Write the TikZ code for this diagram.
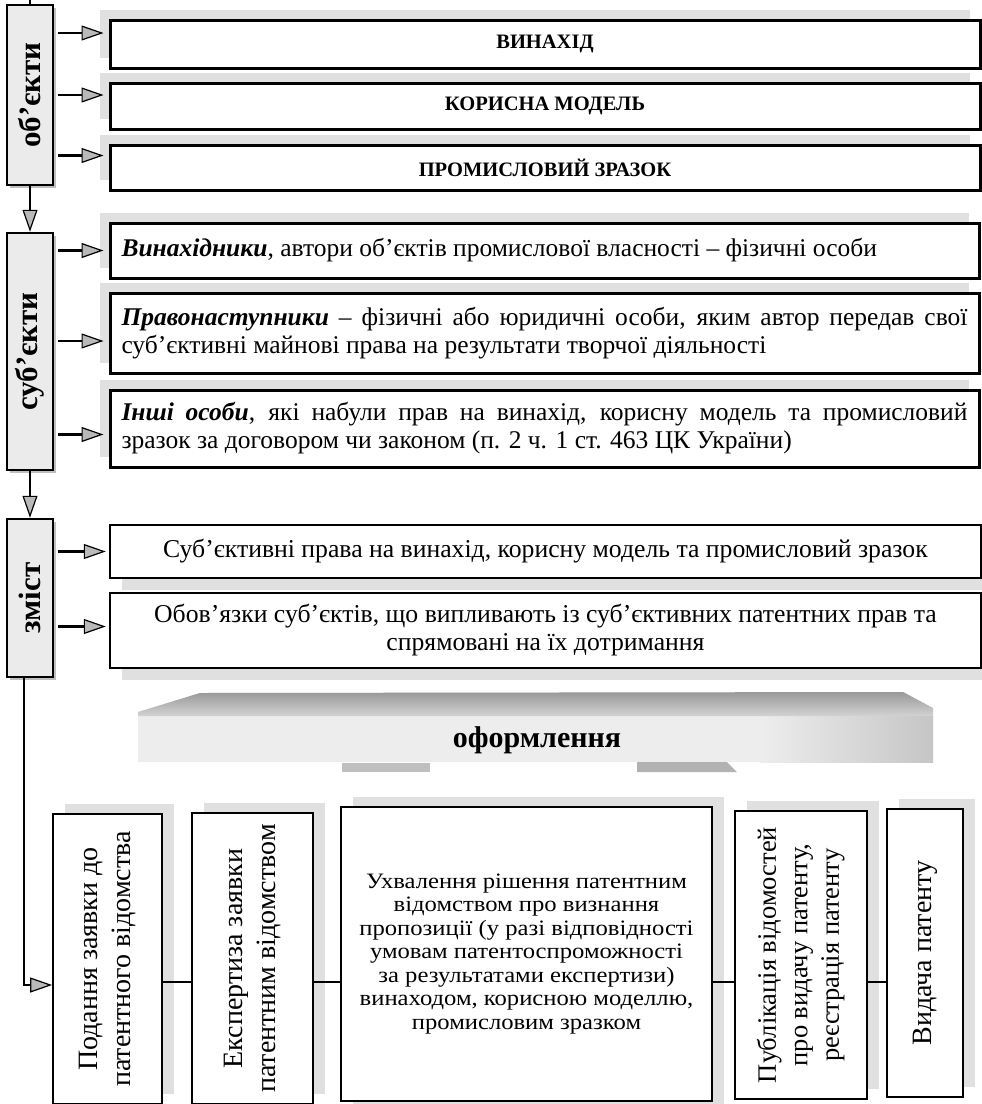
\documentclass[tikz,border=0pt]{standalone}
\usepackage{fontspec}
\setmainfont{Liberation Serif}
\newfontfamily\widefont[FakeStretch=1.12]{Liberation Serif}
\usetikzlibrary{arrows.meta,shadows}
\hyphenpenalty=10000
\begin{document}
\begin{tikzpicture}[x=1pt,y=-1pt,
  arr/.style={line width=2.5pt,-{Triangle[length=22pt,width=15pt,line width=1.2pt,fill=gray!55]}},
  conn/.style={line width=2pt},
  lbox/.style={draw,line width=2.5pt,fill=gray!16,inner sep=0pt,minimum width=46pt,
     font=\fontsize{31}{33}\selectfont\bfseries,
     drop shadow={shadow xshift=3pt,shadow yshift=-3pt,fill=gray!50,opacity=1}},
  obox/.style={draw,line width=3pt,fill=white,inner sep=0pt,minimum width=870pt,
     font=\fontsize{20.5}{24}\selectfont\bfseries,
     drop shadow={shadow xshift=-10pt,shadow yshift=10pt,fill=gray!24,opacity=1}},
  sbox/.style={draw,line width=3pt,fill=white,inner xsep=11.5pt,inner ysep=0pt,
     text width=846pt,align=justify,
     font=\fontsize{25.5}{28}\selectfont,
     drop shadow={shadow xshift=-10pt,shadow yshift=10pt,fill=gray!24,opacity=1}},
  cbox/.style={draw,line width=2.5pt,fill=white,inner sep=0pt,minimum width=871pt,align=center,
     font=\fontsize{25.7}{28}\selectfont,
     drop shadow={shadow xshift=12pt,shadow yshift=-12pt,fill=gray!24,opacity=1}},
  bbox/.style={draw,line width=1.8pt,fill=white,inner sep=0pt,
     font=\fontsize{28}{33}\selectfont,
     drop shadow={shadow xshift=12pt,shadow yshift=10pt,fill=gray!24,opacity=1}},
]
\useasboundingbox (0,0) rectangle (982,1104);

% left column
\node[lbox,minimum height=180pt] (obj) at (30,95) {\rotatebox{90}{об’єкти}};
\node[lbox,minimum height=237pt] (subj) at (30,351.5) {\rotatebox{90}{суб’єкти}};
\node[lbox,minimum height=158pt] (zmist) at (30,598) {\rotatebox{90}{зміст}};

% objects
\node[obox,minimum height=48pt] (o1) at (545,44) {ВИНАХІД};
\node[obox,minimum height=46pt] (o2) at (545,106) {КОРИСНА МОДЕЛЬ};
\node[obox,minimum height=45pt] (o3) at (545,167.5) {ПРОМИСЛОВИЙ ЗРАЗОК};

% subjects
\node[sbox,minimum height=55pt] (s1) at (544.5,250.5) {\textbf{\textit{Винахідники}}, автори об'єктів промислової власності – фізичні особи};
\node[sbox,minimum height=80pt] (s2) at (544.5,333) {\textbf{\textit{Правонаступники}} – фізичні або юридичні особи, яким автор передав свої\linebreak суб'єктивні майнові права на результати творчої діяльності};
\node[sbox,minimum height=77pt] (s3) at (544.5,428.5) {\textbf{\textit{Інші особи}}, які набули прав на винахід, корисну модель та промисловий\linebreak зразок за договором чи законом (п. 2 ч. 1 ст. 463 ЦК України)};

% content
\node[cbox,minimum height=53pt] (c1) at (545.5,551.5) {Суб’єктивні права на винахід, корисну модель та промисловий зразок};
\node[cbox,minimum height=75pt] (c2) at (545.5,630.5) {Обов'язки суб'єктів, що випливають із суб'єктивних патентних прав та\\спрямовані на їх дотримання};

% banner
\fill[gray!14] (138,712) -- (200,693) -- (903,692) -- (933,708) -- (933,762) -- (138,762) -- cycle;
\shade[left color=gray!14,right color=gray!45] (760,716) rectangle (933,762);
\shade[top color=gray!80,bottom color=gray!35] (138,712) -- (200,693) -- (903,692) -- (933,708) -- (933,716) -- (138,716) -- cycle;
\fill[gray!50] (342,763) rectangle (430,772);
\fill[gray!60] (637,762) -- (727,762) -- (737,772) -- (637,772) -- cycle;
\node[font=\fontsize{30}{30}\selectfont\bfseries] (ofo) at (537,740) {оформлення};

% bottom boxes
\node[bbox,minimum width=109pt,minimum height=290pt] (b1) at (107.5,959)
  {\rotatebox{90}{\begin{tabular}{@{}c@{}}Подання заявки до\\патентного відомства\end{tabular}}};
\node[bbox,minimum width=121pt,minimum height=291pt] (b2) at (252.5,958.5)
  {\rotatebox{90}{\begin{tabular}{@{}c@{}}Експертиза заявки\\патентним відомством\end{tabular}}};
\node[bbox,minimum width=371pt,minimum height=294pt,align=center,font=\widefont\fontsize{22}{23.5}\selectfont,
  drop shadow={shadow xshift=12pt,shadow yshift=-10pt,fill=gray!24,opacity=1}] (b3) at (526.5,954)
  {Ухвалення рішення патентним\\відомством про визнання\\пропозиції (у разі відповідності\\умовам патентоспроможності\\за результатами експертизи)\\винаходом, корисною моделлю,\\промисловим зразком};
\node[bbox,minimum width=132pt,minimum height=288pt,font=\fontsize{26.5}{31.5}\selectfont] (b4) at (801,955)
  {\rotatebox{90}{\begin{tabular}{@{}c@{}}Публікація відомостей\\про видачу патенту,\\реєстрація патенту\end{tabular}}};
\node[bbox,minimum width=76pt,minimum height=288pt] (b5) at (925,953)
  {\rotatebox{90}{Видача патенту}};

% connectors
\coordinate (topend) at (30,0);
\draw[line width=2.5pt] (obj.north) -- (topend);
\draw[arr,shorten <=4pt,shorten >=5pt] ([yshift=11pt]obj.east |- o1.west) -- ([yshift=11pt]o1.west);
\draw[arr,shorten <=4pt,shorten >=5pt] ([yshift=11pt]obj.east |- o2.west) -- ([yshift=11pt]o2.west);
\draw[arr,shorten <=4pt,shorten >=5pt] ([yshift=12pt]obj.east |- o3.west) -- ([yshift=12pt]o3.west);
\draw[arr] (obj.south) -- (subj.north);
\draw[arr,shorten <=4pt,shorten >=5pt] (subj.east |- s1.west) -- (s1.west);
\draw[arr,shorten <=4pt,shorten >=5pt] ([yshift=-8pt]subj.east |- s2.west) -- ([yshift=-8pt]s2.west);
\draw[arr,shorten <=4pt,shorten >=5pt] ([yshift=-6pt]subj.east |- s3.west) -- ([yshift=-6pt]s3.west);
\draw[arr] (subj.south) -- (zmist.north);
\draw[arr,shorten <=4pt,shorten >=3pt] (zmist.east |- c1.west) -- (c1.west);
\draw[arr,shorten <=4pt,shorten >=3pt] ([yshift=4pt]zmist.east |- c2.west) -- ([yshift=4pt]c2.west);
\draw[arr] ([xshift=-6pt]zmist.south) |- ([yshift=-26pt]b1.west);

\coordinate (cl) at (0,982);
\draw[conn] (b1.east |- cl) -- (b2.west |- cl);
\draw[conn] (b2.east |- cl) -- (b3.west |- cl);
\draw[conn] (b3.east |- cl) -- (b4.west |- cl);
\draw[conn] (b4.east |- cl) -- (b5.west |- cl);
\end{tikzpicture}
\end{document}
